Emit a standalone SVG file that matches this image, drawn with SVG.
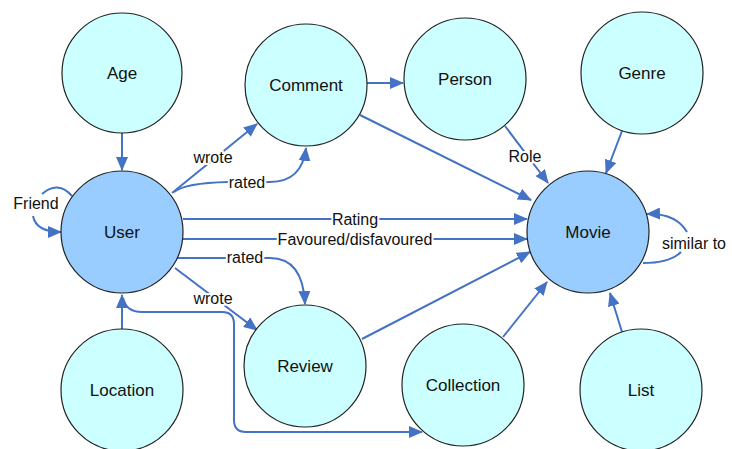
<svg xmlns="http://www.w3.org/2000/svg" width="732" height="449" viewBox="0 0 732 449">
<style>
.n{fill:#CCFFFF;stroke:#222;stroke-width:1.2}
.h{fill:#99CCFF}
.t{font-family:"Liberation Sans",Arial,sans-serif;font-size:17px;fill:#111;text-anchor:middle;dominant-baseline:central}
.e{fill:none;stroke:#4472C4;stroke-width:2}
.a{marker-end:url(#ah)}
.l{font-family:"Liberation Sans",Arial,sans-serif;font-size:16px;fill:#111;text-anchor:middle;dominant-baseline:central;stroke:#fff;stroke-width:4;paint-order:stroke;stroke-linejoin:round}
</style>
<defs>
<marker id="ah" markerUnits="userSpaceOnUse" markerWidth="14" markerHeight="12" refX="13" refY="6" orient="auto">
<path d="M0,0 L14,6 L0,12 z" fill="#4472C4"/>
</marker>
</defs>
<rect width="732" height="449" fill="#fff"/>
<g id="connectors">
<path class="e a" d="M122 133 L122 170"/>
<path class="e a" d="M122 330 L122 295"/>
<path class="e a" d="M123 298 Q126 312 142 312 L222 312 Q234 312 234 324 L234 420 Q234 432 246 432 L422 432"/>
<path class="e" d="M72 196 Q58 180 42 194"/>
<path class="e a" d="M33 216 Q36 232 61 232"/>
<path class="e a" d="M172 193 L257 124"/>
<path class="e a" d="M174 192 Q185 183 228 182 L270 182 Q302 182 306 148"/>
<path class="e a" d="M367 83 L403 83"/>
<path class="e a" d="M360 115 L531 200"/>
<path class="e a" d="M505 126 L548 183"/>
<path class="e a" d="M622 131 L606 173"/>
<path class="e a" d="M183 219 L527 219"/>
<path class="e a" d="M183 239 L527 239"/>
<path class="e a" d="M176 258 L270 258 Q303 258 305 304"/>
<path class="e a" d="M175 268 L257 330"/>
<path class="e a" d="M362 339 L530 252"/>
<path class="e a" d="M503 337 L547 282"/>
<path class="e a" d="M622 332 L610 293"/>
<path class="e" d="M643 263 Q670 263 681 252"/>
<path class="e a" d="M687 232 Q676 213 647 214"/>
<text class="l" x="36" y="203">Friend</text>
<text class="l" x="213" y="157">wrote</text>
<text class="l" x="247" y="182">rated</text>
<text class="l" x="525" y="156">Role</text>
<text class="l" x="355" y="219">Rating</text>
<text class="l" x="355" y="239">Favoured/disfavoured</text>
<text class="l" x="245" y="257">rated</text>
<text class="l" x="213" y="298">wrote</text>
<text class="l" x="694" y="243">similar to</text>
</g>
<g id="age"><circle class="n" cx="122" cy="73" r="60"/><text class="t" x="122" y="73">Age</text></g>
<g id="comment"><circle class="n" cx="306" cy="85" r="61"/><text class="t" x="306" y="85">Comment</text></g>
<g id="person"><circle class="n" cx="465" cy="79" r="61"/><text class="t" x="465" y="79">Person</text></g>
<g id="genre"><circle class="n" cx="642" cy="73" r="61"/><text class="t" x="642" y="73">Genre</text></g>
<g id="user"><circle class="n h" cx="122" cy="232" r="61"/><text class="t" x="122" y="232">User</text></g>
<g id="movie"><circle class="n h" cx="588" cy="232" r="61"/><text class="t" x="588" y="232">Movie</text></g>
<g id="location"><circle class="n" cx="122" cy="390" r="61"/><text class="t" x="122" y="390">Location</text></g>
<g id="review"><circle class="n" cx="305" cy="366" r="61"/><text class="t" x="305" y="366">Review</text></g>
<g id="collection"><circle class="n" cx="463" cy="385" r="61"/><text class="t" x="463" y="385">Collection</text></g>
<g id="list"><circle class="n" cx="641" cy="390" r="61"/><text class="t" x="641" y="390">List</text></g>
</svg>
